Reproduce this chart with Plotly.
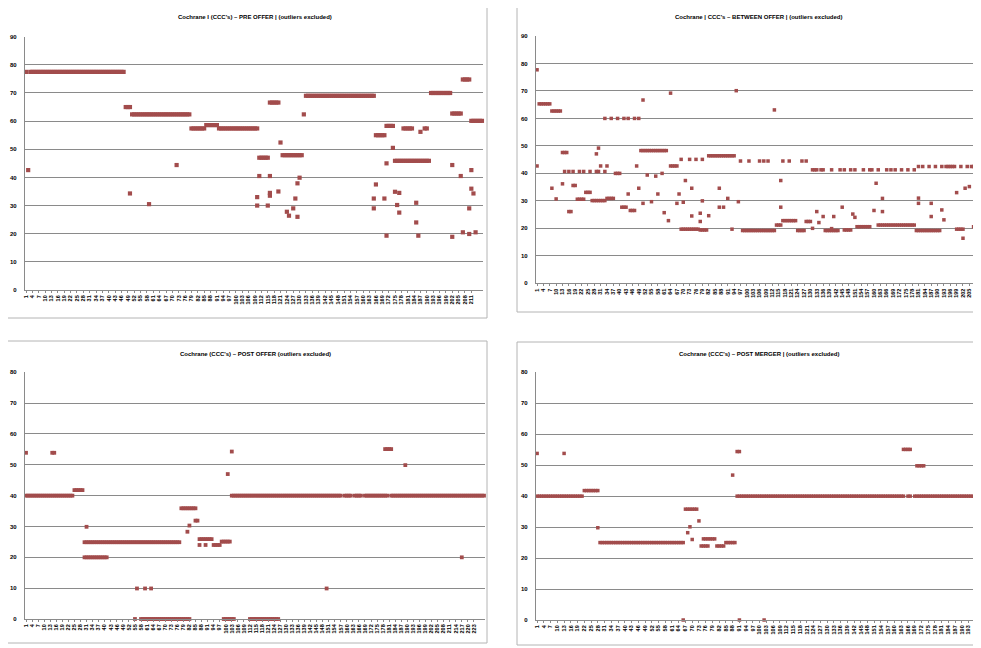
import plotly.graph_objects as go

# ---------------- data ----------------
tl_title = "Cochrane I (CCC's) – PRE OFFER | (outliers excluded)"
tr_title = "Cochrane | CCC's – BETWEEN OFFER | (outliers excluded)"
bl_title = "Cochrane (CCC's) – POST OFFER (outliers excluded)"
br_title = "Cochrane (CCC's) – POST MERGER | (outliers excluded)"

y_ticks_top = [0, 10, 20, 30, 40, 50, 60, 70, 80, 90]
y_ticks_bottom = [0, 10, 20, 30, 40, 50, 60, 70, 80]

tl_vals = [
    77.5, 42.6,
    77.5, 77.5, 77.5, 77.5, 77.5, 77.5, 77.5, 77.5, 77.5, 77.5,
    77.5, 77.5, 77.5, 77.5, 77.5, 77.5, 77.5, 77.5, 77.5, 77.5,
    77.5, 77.5, 77.5, 77.5, 77.5, 77.5, 77.5, 77.5, 77.5, 77.5,
    77.5, 77.5, 77.5, 77.5, 77.5, 77.5, 77.5, 77.5, 77.5, 77.5,
    77.5, 77.5, 77.5, 77.5, 77.5,
    65, 65, 65,
    62.4, 62.4, 62.4, 62.4, 62.4, 62.4, 62.4, 62.4, 62.4, 62.4,
    62.4, 62.4, 62.4, 62.4, 62.4, 62.4, 62.4, 62.4, 62.4, 62.4,
    62.4, 62.4, 62.4, 62.4, 62.4, 62.4, 62.4, 62.4,
    57.4, 57.4, 57.4, 57.4, 57.4, 57.4, 57.4,
    58.6, 58.6, 58.6, 58.6, 58.6, 58.6,
    57.4, 57.4, 57.4, 57.4, 57.4, 57.4, 57.4, 57.4, 57.4, 57.4,
    57.4, 57.4, 57.4, 57.4, 57.4, 57.4, 57.4, 57.4, 57.4,
    47, 47, 47, 47, 47,
    66.6, 66.6, 66.6, 66.6, 66.6,
    52.4,
    47.9, 47.9, 47.9, 47.9, 47.9, 47.9, 47.9, 47.9, 47.9, 47.9,
    62.4,
    69, 69, 69, 69, 69, 69, 69, 69, 69, 69,
    69, 69, 69, 69, 69, 69, 69, 69, 69, 69,
    69, 69, 69, 69, 69, 69, 69, 69, 69, 69,
    69, 69, 69,
    55, 55, 55, 55, 55,
    58.3, 58.3, 58.3, 58.3,
    45.9, 45.9, 45.9, 45.9, 45.9, 45.9, 45.9, 45.9, 45.9, 45.9,
    45.9, 45.9, 45.9, 45.9, 45.9, 45.9, 45.9,
    70, 70, 70, 70, 70, 70, 70, 70, 70, 70,
    62.7, 62.7, 62.7, 62.7, 62.7,
    74.8, 74.8, 74.8, 74.8,
    60.1, 60.1, 60.1, 60.1, 60.1, 60.1,
]
tl_extra = [
    (50, 34.3), (59, 30.5), (72, 44.4),
    (110, 33), (110, 30), (111, 40.5), (115, 30), (116, 40.5), (116, 34.5), (116, 33.5),
    (120, 35), (124, 27.8), (125, 26.4), (127, 29), (128, 32.5), (129, 26), (129, 37.9), (130, 39.9),
    (165, 32.5), (165, 29), (166, 37.5), (170, 32.5), (171, 45), (171, 19.3), (174, 50.5),
    (175, 34.9), (176, 30.2), (177, 27.5), (177, 34.5),
    (179, 57.4), (180, 57.4), (181, 57.4), (182, 57.4), (183, 57.4),
    (185, 31), (185, 24), (186, 19.3), (187, 56.2), (189, 57.4), (190, 57.4),
    (202, 44.4), (202, 18.9), (206, 40.5), (207, 20.5), (210, 29), (210, 19.9),
    (211, 42.6), (211, 36), (212, 34.3), (213, 20.5),
]

tr_vals = [
    77.7,
    65.3, 65.3, 65.3, 65.3, 65.3, 65.3,
    62.7, 62.7, 62.7, 62.7, 62.7,
    47.6, 47.6, 47.6,
    26.1, 26.1,
    35.6, 35.6,
    30.6, 30.6, 30.6, 30.6,
    33.1, 33.1, 33.1,
    30.1, 30.1, 30.1, 30.1, 30.1, 30.1, 30.1,
    30.9, 30.9, 30.9, 30.9,
    40.0, 40.0, 40.0,
    27.7, 27.7, 27.7,
    32.5,
    26.5, 26.5, 26.5,
    42.7,
    34.6,
    48.3, 48.3, 48.3, 48.3, 48.3, 48.3, 48.3, 48.3, 48.3, 48.3, 48.3, 48.3, 48.3,
    22.8,
    42.7, 42.7, 42.7, 42.7,
    32.5,
    19.7, 19.7, 19.7, 19.7, 19.7, 19.7, 19.7, 19.7, 19.7,
    19.4, 19.4, 19.4, 19.4,
    46.4, 46.4, 46.4, 46.4, 46.4, 46.4, 46.4, 46.4, 46.4, 46.4, 46.4, 46.4, 46.4,
    70.1,
    29.7,
    44.5,
    19.2, 19.2, 19.2, 19.2, 19.2, 19.2, 19.2, 19.2, 19.2, 19.2, 19.2, 19.2, 19.2, 19.2, 19.2, 19.2,
    21.2, 21.2, 21.2,
    22.8, 22.8, 22.8, 22.8, 22.8, 22.8, 22.8,
    19.2, 19.2, 19.2, 19.2,
    22.5, 22.5, 22.5,
    20.0,
    41.3, 26.1, 22.1, 41.3, 24.3,
    19.2, 19.2, 19.2, 19.2, 19.2, 19.2, 19.2,
    41.3, 27.7,
    19.4, 19.4, 19.4, 19.4,
    25.2, 24.0,
    20.6, 20.6, 20.6, 20.6, 20.6, 20.6, 20.6,
    41.3, 26.5, 36.4,
    21.2, 21.2, 21.2, 21.2, 21.2, 21.2, 21.2, 21.2, 21.2,
    21.2, 21.2, 21.2, 21.2, 21.2, 21.2, 21.2, 21.2, 21.2,
    19.2, 19.2, 19.2, 19.2, 19.2, 19.2, 19.2, 19.2, 19.2, 19.2, 19.2, 19.2,
    26.7, 23.1,
    42.5, 42.5, 42.5, 42.5, 42.5,
    19.7, 19.7, 19.7, 19.7,
    34.6, 42.5, 35.2, 42.5, 20.6, 42.5, 20.6, 42.5,
]
tr_extra = [
    (1, 42.7), (8, 34.6), (10, 30.7), (13, 36.2),
    (14, 40.7), (16, 40.7), (18, 40.7), (21, 40.7), (23, 40.7), (26, 40.7),
    (29, 40.7), (29, 47.1), (30, 40.7), (30, 49.2), (31, 42.7), (33, 40.7), (34, 42.7),
    (33, 60), (36, 60), (39, 60), (42, 60), (44, 60), (47, 60), (49, 60),
    (51, 66.7), (51, 29.1), (53, 39.4), (55, 29.7), (57, 39.0), (58, 32.5),
    (60, 40), (61, 25.7), (64, 69.2), (67, 29.1),
    (69, 45.1), (70, 29.5), (71, 37.4), (73, 45.1), (74, 34.6), (74, 24.5),
    (76, 45.1), (78, 25.5), (78, 22.5), (79, 45.1), (79, 30), (82, 24.6),
    (87, 34.6), (87, 27.7), (89, 27.7), (91, 30.9), (93, 19.7),
    (101, 44.5), (106, 44.5), (108, 44.5), (110, 44.5), (113, 63.1),
    (116, 37.4), (116, 27.7), (117, 44.5), (120, 44.5), (126, 44.5), (128, 44.5),
    (131, 41.3), (133, 41.3), (136, 41.3), (140, 41.3), (140, 19.9), (141, 24.3),
    (146, 41.3), (149, 41.3), (151, 41.3), (155, 41.3), (158, 41.3), (162, 41.3),
    (164, 30.9), (164, 26.1), (166, 41.3), (168, 41.3), (170, 41.3), (173, 41.3),
    (176, 41.3), (179, 41.3),
    (181, 29.1), (181, 31), (181, 42.5), (183, 42.5), (186, 42.5), (187, 29.1), (187, 24.3),
    (189, 42.5), (192, 42.5), (199, 33), (201, 42.5), (202, 16.4), (207, 42.5), (209, 42.5),
]

bl_vals = [
    40, 40, 40, 40, 40, 40, 40, 40, 40, 40,
    40, 40, 40, 40, 40, 40, 40, 40, 40, 40,
    40, 40, 40, 40,
    41.8, 41.8, 41.8, 41.8, 41.8,
    24.9, 24.9, 24.9, 24.9, 24.9, 24.9, 24.9, 24.9, 24.9, 24.9,
    24.9, 24.9, 24.9, 24.9, 24.9, 24.9, 24.9, 24.9, 24.9, 24.9,
    24.9, 24.9, 24.9, 24.9, 24.9, 24.9, 24.9, 24.9, 24.9, 24.9,
    24.9, 24.9, 24.9, 24.9, 24.9, 24.9, 24.9, 24.9, 24.9, 24.9,
    24.9, 24.9, 24.9, 24.9, 24.9, 24.9, 24.9, 24.9,
    35.9, 35.9, 35.9, 35.9, 35.9, 35.9, 35.9, 35.9,
    31.9,
    25.9, 25.9, 25.9, 25.9, 25.9, 25.9, 25.9,
    24.0, 24.0, 24.0, 24.0,
    25.1, 25.1, 25.1, 25.1, 25.1,
    40, 40, 40, 40, 40, 40, 40, 40, 40, 40,
    40, 40, 40, 40, 40, 40, 40, 40, 40, 40,
    40, 40, 40, 40, 40, 40, 40, 40, 40, 40,
    40, 40, 40, 40, 40, 40, 40, 40, 40, 40,
    40, 40, 40, 40, 40, 40, 40, 40, 40, 40,
    40, 40, 40, 40, 40,
    None,
    40, 40, 40, 40,
    None,
    40, 40, 40, 40,
    None,
    40, 40, 40, 40, 40, 40, 40, 40, 40, 40, 40, 40,
    None,
    40, 40, 40, 40, 40, 40, 40, 40, 40, 40,
    40, 40, 40, 40, 40, 40, 40, 40, 40, 40,
    40, 40, 40, 40, 40, 40, 40, 40, 40, 40,
    40, 40, 40, 40, 40, 40, 40, 40, 40, 40,
    40, 40, 40, 40, 40, 40, 40,
]
bl_extra = [
    (1, 53.9), (14, 53.9), (15, 53.9),
    (30, 20), (31, 20), (32, 20), (33, 20), (34, 20), (35, 20),
    (36, 20), (37, 20), (38, 20), (39, 20), (40, 20), (41, 20),
    (31, 29.9), (56, 9.9), (60, 9.9), (63, 9.9),
    (55, 0), (58, 0), (59, 0), (60, 0), (61, 0), (62, 0), (63, 0), (64, 0),
    (65, 0), (66, 0), (67, 0), (68, 0), (69, 0), (70, 0), (71, 0), (72, 0),
    (73, 0), (74, 0), (75, 0), (76, 0), (77, 0), (78, 0), (79, 0), (80, 0),
    (81, 0), (82, 0),
    (81, 28.3), (82, 30.3), (85, 31.9), (87, 24.0), (90, 24.0), (101, 47.0), (103, 54.3),
    (99, 0), (100, 0), (101, 0), (102, 0), (103, 0), (104, 0),
    (112, 0), (113, 0), (114, 0), (115, 0), (116, 0), (117, 0), (118, 0), (119, 0),
    (120, 0), (121, 0), (122, 0), (123, 0), (124, 0), (125, 0), (126, 0),
    (150, 9.9), (179, 55.1), (180, 55.1), (181, 55.1), (182, 55.1), (189, 49.9), (217, 20.0),
]

br_vals = [
    40, 40, 40, 40, 40, 40, 40, 40, 40, 40,
    40, 40, 40, 40, 40, 40, 40, 40, 40, 40,
    40,
    41.8, 41.8, 41.8, 41.8, 41.8, 41.8, 41.8,
    25.0, 25.0, 25.0, 25.0, 25.0, 25.0, 25.0, 25.0, 25.0, 25.0,
    25.0, 25.0, 25.0, 25.0, 25.0, 25.0, 25.0, 25.0, 25.0, 25.0,
    25.0, 25.0, 25.0, 25.0, 25.0, 25.0, 25.0, 25.0, 25.0, 25.0,
    25.0, 25.0, 25.0, 25.0, 25.0, 25.0, 25.0, 25.0,
    35.8, 35.8, 35.8, 35.8, 35.8, 35.8,
    32.0,
    23.9, 23.9, 23.9, 23.9,
    26.2, 26.2, 26.2,
    23.9, 23.9, 23.9, 23.9,
    25.0, 25.0, 25.0, 25.0, 25.0,
    40, 40, 40, 40, 40, 40, 40, 40, 40, 40,
    40, 40, 40, 40, 40, 40, 40, 40, 40, 40,
    40, 40, 40, 40, 40, 40, 40, 40, 40, 40,
    40, 40, 40, 40, 40, 40, 40, 40, 40, 40,
    40, 40, 40, 40, 40, 40, 40, 40, 40, 40,
    40, 40, 40, 40, 40, 40, 40, 40, 40, 40,
    40, 40, 40, 40, 40, 40, 40, 40, 40, 40,
    40, 40, 40, 40, 40,
    None,
    40, 40,
    None,
    40, 40, 40, 40, 40, 40, 40, 40, 40, 40,
    40, 40, 40, 40, 40, 40, 40, 40, 40, 40,
    40, 40, 40, 40, 40, 40, 40, 40, 40, 40,
]
br_extra = [
    (1, 53.8), (13, 53.8), (28, 29.8), (68, 28.2), (69, 30.1), (70, 26.0),
    (75, 26.2), (76, 26.2), (77, 26.2), (88, 46.8), (90, 54.4), (91, 54.4),
    (164, 55.1), (165, 55.1), (166, 55.1), (167, 55.1),
    (170, 49.8), (171, 49.8), (172, 49.8), (173, 49.8),
    (66, 0), (91, 0), (102, 0),
]

# ---------------- layout geometry ----------------
# The page body has an 8px margin, so the figure is offset by 8px;
# coordinates below are page pixels of the 981x648 window.
OFF = 8
W, H = 981 - OFF, 648 - OFF
def px_x(v):
    return (v - OFF) / W
def px_y(v):
    return 1 - (v - OFF) / H

MARK = "#A24C4C"
GRID = "#8a8a8a"
FONT = "Liberation Sans"

panels = [
    # vals, extra, title, yticks, xdom(px), ydom(px top,bottom), title pos, marker size
    (tl_vals, tl_extra, tl_title, y_ticks_top, (25, 483), (36.7, 290), (255, 17), 4.2),
    (tr_vals, tr_extra, tr_title, y_ticks_top, (536, 981), (36, 283.3), (758, 17), 3.5),
    (bl_vals, bl_extra, bl_title, y_ticks_bottom, (25, 485), (372.3, 619), (255, 354), 3.8),
    (br_vals, br_extra, br_title, y_ticks_bottom, (536, 981), (372.3, 620), (759, 354), 3.5),
]

fig = go.Figure()
layout = dict(
    width=W, height=H, margin=dict(l=0, r=0, t=0, b=0, autoexpand=False),
    paper_bgcolor="white", plot_bgcolor="white", showlegend=False,
    font=dict(family=FONT, color="black"),
)
annotations = []
for k, (vals, extra, title, yt, xd, yd, tpos, msize) in enumerate(panels):
    n = k + 1
    xs = list(range(1, len(vals) + 1))
    xa = "x" if n == 1 else f"x{n}"
    ya = "y" if n == 1 else f"y{n}"
    fig.add_trace(go.Scatter(
        x=xs, y=vals, mode="markers", xaxis=xa, yaxis=ya, cliponaxis=False,
        marker=dict(symbol="square", size=msize, color=MARK, line=dict(width=0)),
        hoverinfo="x+y"))
    fig.add_trace(go.Scatter(
        x=[p[0] for p in extra], y=[p[1] for p in extra], mode="markers",
        xaxis=xa, yaxis=ya, cliponaxis=False,
        marker=dict(symbol="square", size=msize, color=MARK, line=dict(width=0)),
        hoverinfo="x+y"))
    N = len(vals)
    tickvals = list(range(1, N - 2, 3))
    layout["xaxis" if n == 1 else f"xaxis{n}"] = dict(
        domain=[max(0.0, px_x(xd[0])), min(1.0, px_x(xd[1]))], anchor=ya, automargin=False,
        range=[0.5, N + 0.5], tickmode="array", tickvals=tickvals,
        ticktext=["<b>" + str(v) + "</b>" for v in tickvals], tickangle=-90,
        tickfont=dict(size=5.5, family=FONT, color="black"),
        showgrid=False, zeroline=False, showline=True, linecolor=GRID, linewidth=1.2,
        ticks="outside", ticklen=2, tickcolor=GRID,
    )
    layout["yaxis" if n == 1 else f"yaxis{n}"] = dict(
        domain=[px_y(yd[1]), px_y(yd[0])], anchor=xa, automargin=False,
        range=[0, yt[-1]], tickmode="array", tickvals=yt,
        ticktext=["<b>" + str(v) + "</b>" for v in yt],
        tickfont=dict(size=6, family=FONT, color="black"),
        showgrid=True, gridcolor=GRID, gridwidth=1.4, zeroline=False,
        showline=True, linecolor=GRID, linewidth=1.2, ticks="", ticklabelstandoff=6,
    )
    annotations.append(dict(
        x=px_x(tpos[0]), y=px_y(tpos[1]), xref="paper", yref="paper",
        text="<b>" + title + "</b>", showarrow=False,
        font=dict(size=6, family=FONT, color="black"), xanchor="center", yanchor="middle"))

shapes = []
for (x0, y0, x1, y1) in [(5, 5, 487, 318), (517, 5, 1030, 312), (5, 341, 487, 643), (517, 342, 1030, 645)]:
    shapes.append(dict(type="rect", xref="paper", yref="paper",
                       x0=px_x(x0), x1=px_x(x1), y0=px_y(y1), y1=px_y(y0),
                       line=dict(color="#b4b4b4", width=1), fillcolor="rgba(0,0,0,0)", layer="below"))

layout["annotations"] = annotations
layout["shapes"] = shapes
fig.update_layout(**layout)
fig.write_html("out.html")
